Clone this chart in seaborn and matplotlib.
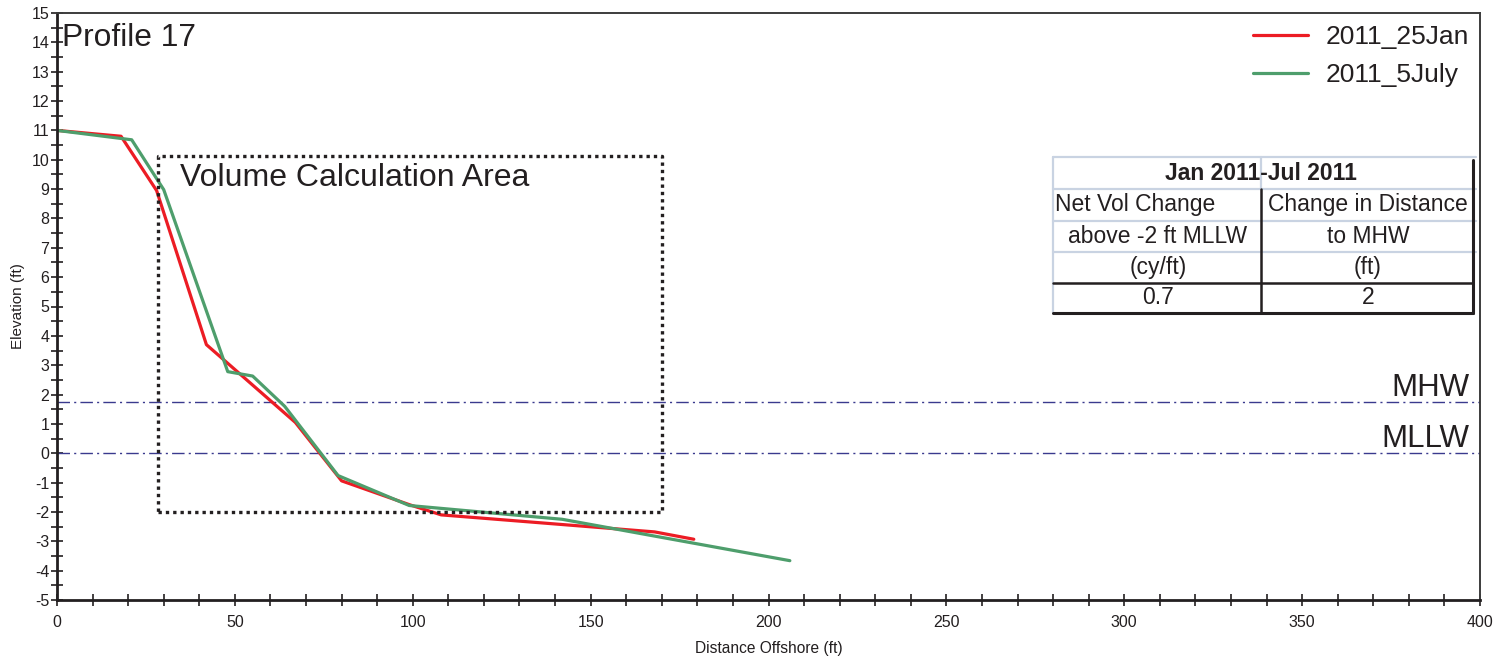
import numpy as np
import pandas as pd
import matplotlib
matplotlib.use("Agg")
import matplotlib.pyplot as plt
import seaborn as sns

# Beach profile surveys: distance offshore (ft) and elevation (ft)
jan_dist = [0, 18, 28, 42, 67, 80, 99, 108, 168, 179]
jan_elev = [11.0, 10.8, 8.95, 3.7, 1.05, -0.94, -1.75, -2.1, -2.68, -2.93]
jul_dist = [0, 21, 30, 48, 55, 64, 79, 99, 142, 206]
jul_elev = [11.0, 10.68, 8.98, 2.78, 2.63, 1.6, -0.76, -1.78, -2.25, -3.66]
survey_names = ["2011_25Jan", "2011_5July"]
survey_colors = ["#ec1c24", "#4e9e6c"]

# Tidal datums (ft)
datum_names = ["MHW", "MLLW"]
datum_levels = [1.74, 0.0]

# Volume calculation area bounds
vol_x = [28.3, 170.0]
vol_y = [-2.0, 10.12]

# Summary table
table_title = "Jan 2011-Jul 2011"
table_col1 = ["Net Vol Change", "above -2 ft MLLW", "(cy/ft)", "0.7"]
table_col2 = ["Change in Distance", "to MHW", "(ft)", "2"]

sns.set_theme(style="white")
plt.rcParams["font.family"] = ["Liberation Sans", "DejaVu Sans"]
plt.rcParams["axes.unicode_minus"] = False

W, H = 1502, 658
fig = plt.figure(figsize=(W / 100, H / 100), dpi=100)
ax = fig.add_axes([57 / W, 1 - 600 / H, (1480 - 57) / W, (600 - 13) / H])

df = pd.concat([
    pd.DataFrame({"dist": jan_dist, "elev": jan_elev, "survey": survey_names[0]}),
    pd.DataFrame({"dist": jul_dist, "elev": jul_elev, "survey": survey_names[1]}),
])
for name, col in zip(survey_names, survey_colors):
    sub = df[df["survey"] == name]
    sns.lineplot(data=sub, x="dist", y="elev", sort=False, estimator=None,
                 color=col, lw=2.3, label=name, ax=ax)

# Datum lines
for name, lvl in zip(datum_names, datum_levels):
    ax.axhline(lvl, color="#3a3a8e", lw=1.0, dashes=(9, 3, 1.5, 3), zorder=1)
    ax.text(397.0, lvl + 0.2, name, ha="right", va="baseline", fontsize=22.5,
            color="#231f20")

# Volume calculation area box
bx = [vol_x[0], vol_x[1], vol_x[1], vol_x[0], vol_x[0]]
by = [vol_y[0], vol_y[0], vol_y[1], vol_y[1], vol_y[0]]
ax.plot(bx, by, color="#231f20", lw=2.4, ls=(0, (1, 1.2)), zorder=2)
ax.text(vol_x[0] + 6.3, 9.1, "Volume Calculation Area", fontsize=23,
        color="#231f20", va="baseline", ha="left")

ax.text(0.0035, 0.944, "Profile 17", transform=ax.transAxes, fontsize=22.9,
        color="#231f20", va="baseline", ha="left")

ax.set_xlim(0, 400)
ax.set_ylim(-5, 15)
ax.set_xticks(np.arange(0, 401, 50))
ax.set_xticks(np.arange(0, 401, 10), minor=True)
ax.set_yticks(np.arange(-5, 16, 1))
ax.set_yticks(np.arange(-5, 15.01, 0.5), minor=True)
ax.tick_params(which="both", direction="inout", length=9, width=1.2,
               color="#231f20", labelsize=11.5, labelcolor="#231f20",
               bottom=True, left=True)
ax.tick_params(axis="y", pad=1)
ax.tick_params(axis="x", pad=6)
for s in ["left", "bottom"]:
    ax.spines[s].set_color("#231f20")
    ax.spines[s].set_linewidth(2)
for s in ["top", "right"]:
    ax.spines[s].set_color("#3c3c3c")
    ax.spines[s].set_linewidth(1.4)

ax.set_xlabel("Distance Offshore (ft)", fontsize=11.2, color="#231f20",
              va="center")
ax.set_ylabel("Elevation (ft)", fontsize=11, color="#231f20", va="center")
ax.xaxis.set_label_coords(0.5, (600 - 648) / 587)
ax.yaxis.set_label_coords((18 - 57) / 1423, 0.5)

leg = ax.legend(loc="upper right", frameon=False, fontsize=19,
                handlelength=2.1, handletextpad=0.68, labelspacing=0.52,
                borderaxespad=0.0, bbox_to_anchor=(1.0, 0.997))
for t in leg.get_texts():
    t.set_color("#231f20")

# Summary table drawn in figure pixel space
def fx(px):
    return px / W

def fy(py):
    return 1 - py / H

light = "#c9d3e2"
dark = "#231f20"
tl, tr, tm = 1053, 1473, 1261
rows = [157, 189, 221, 252, 283, 313]

def hline(y, x0, x1, c, lw):
    fig.add_artist(plt.Line2D([fx(x0), fx(x1)], [fy(y), fy(y)], color=c,
                              lw=lw, transform=fig.transFigure))

def vline(x, y0, y1, c, lw):
    fig.add_artist(plt.Line2D([fx(x), fx(x)], [fy(y0), fy(y1)], color=c,
                              lw=lw, transform=fig.transFigure))

for y in rows[:4]:
    hline(y, tl, tr + 3, light, 1.6)
vline(tl, rows[0], rows[-1], light, 1.6)
vline(tm, rows[0], rows[1], light, 1.6)
vline(tm, rows[1], rows[-1], dark, 1.8)
vline(tr, rows[0] + 3, rows[-1], dark, 2.2)
hline(rows[4], tl, tr, dark, 1.8)
hline(rows[5], tl, tr, dark, 2.2)

fs_tab = 16.5
fig.text(fx(tm), fy((rows[0] + rows[1]) / 2), table_title, ha="center",
         va="center", fontsize=fs_tab, fontweight="bold", color=dark)
c1 = (tl + tm) / 2 + 1
c2 = (tm + tr) / 2 + 1
for i in range(4):
    yc = fy((rows[i + 1] + rows[i + 2]) / 2)
    if i == 0:
        fig.text(fx(tl + 2), yc, table_col1[i], ha="left", va="center",
                 fontsize=fs_tab, color=dark)
    else:
        fig.text(fx(c1), yc, table_col1[i], ha="center", va="center",
                 fontsize=fs_tab, color=dark)
    fig.text(fx(c2), yc, table_col2[i], ha="center", va="center",
             fontsize=fs_tab, color=dark)

fig.savefig("out.png", dpi=100, facecolor="white")
